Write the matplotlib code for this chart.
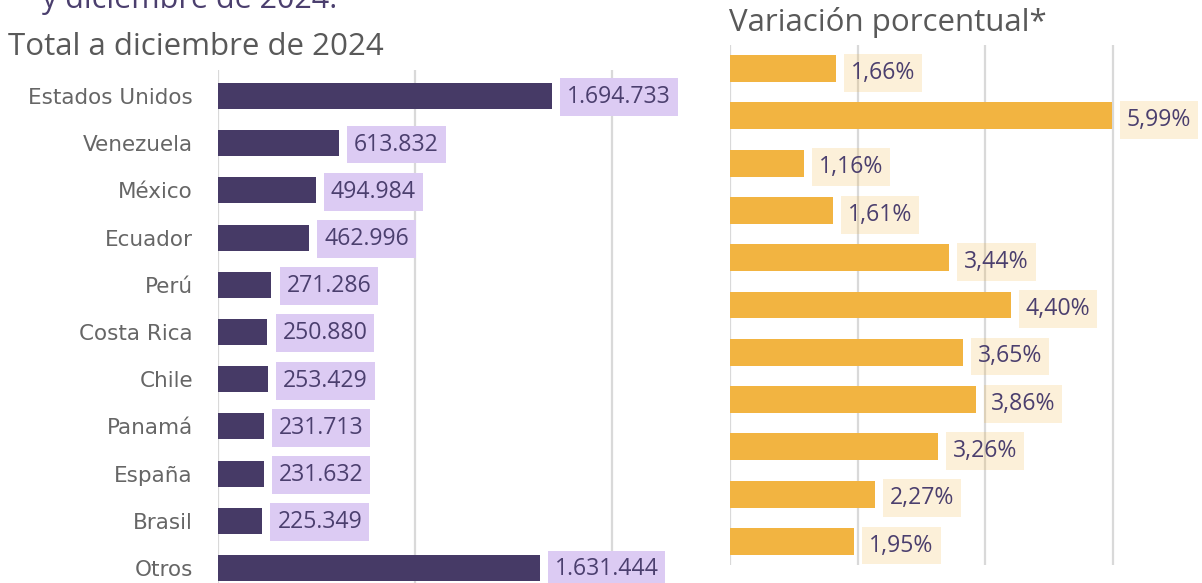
import matplotlib
matplotlib.use("Agg")
import matplotlib.pyplot as plt

countries = ["Estados Unidos", "Venezuela", "México", "Ecuador", "Perú",
             "Costa Rica", "Chile", "Panamá", "España", "Brasil", "Otros"]
totals = [1694733, 613832, 494984, 462996, 271286, 250880, 253429,
          231713, 231632, 225349, 1631444]
variation = [1.66, 5.99, 1.16, 1.61, 3.44, 4.40, 3.65, 3.86, 3.26, 2.27, 1.95]
left_ticks = [0, 1_000_000, 2_000_000]
right_ticks = [0, 2, 4, 6]
title_left = "Total a diciembre de 2024"
title_right = "Variación porcentual*"
headline = "y diciembre de 2024."

FONT = ["Open Sans", "DejaVu Sans"]
CAT_FONT = ["DejaVu Sans"]
plt.rcParams["font.family"] = FONT

W, H = 1202, 583
fig = plt.figure(figsize=(W / 100, H / 100), dpi=100)

def px_axes(x0, x1, ytop, ybot):
    return fig.add_axes([x0 / W, (H - ybot) / H, (x1 - x0) / W, (ybot - ytop) / H])

PURPLE = "#463a66"
TXT = "#4b3f6e"
GRAY = "#595959"
GRID = "#d9d9d9"
YELLOW = "#f2b441"
VAL_FS = 16.6

# Left panel
axl = px_axes(218, 691, 70, 594)
axl.barh(range(len(countries)), totals, height=0.55, color=PURPLE, zorder=3)
axl.set_xlim(0, 2.4e6)
axl.set_ylim(len(countries) - 0.45, -0.55)
axl.set_xticks(left_ticks)
axl.grid(axis="x", color=GRID, linewidth=1.6, zorder=0)
axl.set_yticks(range(len(countries)))
axl.set_yticklabels(countries, fontsize=15.5, color="#666666", family=CAT_FONT)
axl.tick_params(axis="y", length=0, pad=18)
axl.tick_params(axis="x", length=0, labelbottom=False)
for s in axl.spines.values():
    s.set_visible(False)
for i, v in enumerate(totals):
    lab = f"{v:,}".replace(",", ".")
    axl.annotate(lab, xy=(v, i), xytext=(10.8, -1), textcoords="offset points",
                 va="center", ha="left", fontsize=VAL_FS, color=TXT, zorder=5,
                 bbox=dict(boxstyle="square,pad=0.3", fc="#dccbf3", ec="none"))

# Right panel
axr = px_axes(730, 1189, 45, 565)
axr.barh(range(len(variation)), variation, height=0.57, color=YELLOW, zorder=3)
axr.set_xlim(0, 7.2)
axr.set_ylim(len(variation) - 0.5, -0.5)
axr.set_xticks(right_ticks)
axr.grid(axis="x", color=GRID, linewidth=1.6, zorder=0)
axr.set_yticks([])
axr.tick_params(axis="x", length=0, labelbottom=False)
for s in axr.spines.values():
    s.set_visible(False)
for i, v in enumerate(variation):
    lab = f"{v:.2f}".replace(".", ",") + "%"
    axr.annotate(lab, xy=(v, i), xytext=(10.8, -3), textcoords="offset points",
                 va="center", ha="left", fontsize=VAL_FS, color=TXT, zorder=5,
                 bbox=dict(boxstyle="square,pad=0.3", fc=(0.949, 0.706, 0.255, 0.2), ec="none"))

fig.text(8 / W, (H - 55) / H, title_left, fontsize=22.5, color=GRAY, va="baseline", ha="left")
fig.text(729 / W, (H - 31) / H, title_right, fontsize=22.5, color=GRAY, va="baseline", ha="left")
fig.text(42 / W, (H - 8) / H, headline, fontsize=22, color=TXT, va="baseline", ha="left")

fig.savefig("out.png", dpi=100)
